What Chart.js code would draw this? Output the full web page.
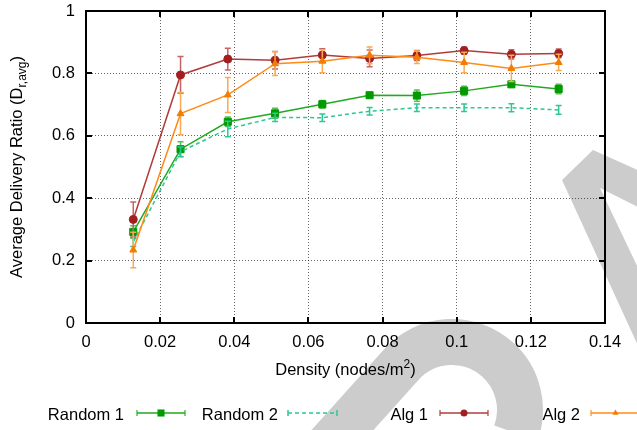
<!DOCTYPE html>
<html>
<head>
<meta charset="utf-8">
<script src="https://cdn.jsdelivr.net/npm/chart.js@4/dist/chart.umd.min.js"></script>
<style>
  html, body { margin: 0; padding: 0; background: #fff; }
  #wrap { width: 637px; height: 430px; position: relative; }
</style>
</head>
<body>
<div id="wrap"><canvas id="c" width="637" height="430"></canvas></div>
<script>
// ---- data ----
const xValues = [0.01275, 0.0255, 0.03825, 0.051, 0.06375, 0.0765, 0.08925, 0.102, 0.11475, 0.1275];
const random1 = [0.292, 0.557, 0.645, 0.672, 0.701, 0.730, 0.729, 0.744, 0.765, 0.750];
const random1Err = [0.020, 0.024, 0.015, 0.016, 0.012, 0.008, 0.018, 0.015, 0.008, 0.015];
const random2 = [0.260, 0.549, 0.622, 0.659, 0.658, 0.679, 0.690, 0.690, 0.690, 0.683];
const random2Err = [0.015, 0.015, 0.025, 0.013, 0.012, 0.012, 0.012, 0.012, 0.013, 0.014];
const alg1 = [0.332, 0.795, 0.846, 0.842, 0.859, 0.848, 0.857, 0.873, 0.861, 0.864];
const alg1Err = [0.056, 0.059, 0.035, 0.028, 0.020, 0.027, 0.016, 0.012, 0.015, 0.014];
const alg2 = [0.234, 0.671, 0.731, 0.831, 0.839, 0.858, 0.852, 0.835, 0.816, 0.835];
const alg2Err = [0.057, 0.068, 0.056, 0.038, 0.037, 0.027, 0.020, 0.033, 0.042, 0.026];
const seriesNames = ["Random 1", "Random 2", "Alg 1", "Alg 2"];
const xTicks = [0, 0.02, 0.04, 0.06, 0.08, 0.1, 0.12, 0.14];
const xTickLabels = ["0", "0.02", "0.04", "0.06", "0.08", "0.1", "0.12", "0.14"];
const yTicks = [0, 0.2, 0.4, 0.6, 0.8, 1];
const yTickLabels = ["0", "0.2", "0.4", "0.6", "0.8", "1"];
const xTitle = "Density (nodes/m";
const xTitleSup = "2";
const yTitle = "Average Delivery Ratio (D";
const yTitleSub = "r,avg";

// ---- styles ----
const FONT = "'Liberation Sans', Arial, Helvetica, sans-serif";
const FS = 16.5;
const styles = [
  { line: '#1faa1f', point: '#009a00', err: '#55c055', pointStyle: 'rect', radius: 5, dash: [] },
  { line: '#2cc792', point: '#2cc792', err: '#2cc792', pointStyle: 'circle', radius: 0, dash: [4, 3] },
  { line: '#b23b3b', point: '#a31f1f', err: '#c46464', pointStyle: 'circle', radius: 4, dash: [] },
  { line: '#ff8b17', point: '#f27d00', err: '#f8aa55', pointStyle: 'triangle', radius: 4, dash: [] }
];
const values = [random1, random2, alg1, alg2];
const errors = [random1Err, random2Err, alg1Err, alg2Err];

const datasets = values.map((vals, i) => ({
  label: seriesNames[i],
  data: vals.map((v, k) => ({ x: xValues[k], y: v })),
  errs: errors[i],
  borderColor: styles[i].line,
  backgroundColor: styles[i].point,
  pointBackgroundColor: styles[i].point,
  pointBorderColor: styles[i].point,
  pointStyle: styles[i].pointStyle,
  pointRadius: styles[i].radius,
  pointBorderWidth: 1,
  borderWidth: 1.5,
  borderDash: styles[i].dash,
  tension: 0,
  fill: false,
  order: 4 - i
}));

function drawMarker(ctx, style, x, y, r) {
  ctx.fillStyle = style.point;
  ctx.beginPath();
  if (style.pointStyle === 'rect') {
    const s = r * Math.SQRT1_2;
    ctx.rect(x - s, y - s, 2 * s, 2 * s);
  } else if (style.pointStyle === 'triangle') {
    ctx.moveTo(x, y - r);
    ctx.lineTo(x + r * 0.87, y + r * 0.5);
    ctx.lineTo(x - r * 0.87, y + r * 0.5);
    ctx.closePath();
  } else {
    ctx.arc(x, y, r, 0, Math.PI * 2);
  }
  ctx.fill();
}

const decor = {
  id: 'decor',
  beforeDraw(chart) {
    const ctx = chart.ctx;
    ctx.save();
    ctx.fillStyle = '#fff';
    ctx.fillRect(0, 0, chart.width, chart.height);
    // watermark (decorative, pixel space)
    ctx.strokeStyle = '#cccccc';
    ctx.fillStyle = '#cccccc';
    ctx.lineWidth = 46;
    ctx.lineCap = 'butt';
    ctx.beginPath();
    ctx.moveTo(315.5, 460);
    ctx.lineTo(401.5, 364.5);
    ctx.arc(452, 410, 68, -138 * Math.PI / 180, 20 * Math.PI / 180, false);
    ctx.stroke();
    ctx.beginPath();
    ctx.moveTo(562, 180);
    ctx.lineTo(593, 150);
    ctx.lineTo(640, 171);
    ctx.lineTo(640, 208);
    ctx.lineTo(600, 188);
    ctx.lineTo(640, 272);
    ctx.lineTo(640, 350);
    ctx.closePath();
    ctx.fill();
    ctx.restore();
  },
  beforeDatasetDraw(chart, args) {
    const ctx = chart.ctx;
    const ds = chart.data.datasets[args.index];
    const st = styles[args.index];
    const yS = chart.scales.y;
    const meta = args.meta;
    ctx.save();
    ctx.strokeStyle = st.err;
    ctx.lineWidth = 1.5;
    ctx.setLineDash([]);
    meta.data.forEach((pt, k) => {
      const v = ds.data[k].y, e = ds.errs[k];
      const x = pt.x;
      const y1 = yS.getPixelForValue(v + e), y2 = yS.getPixelForValue(v - e);
      ctx.beginPath();
      ctx.moveTo(x, y1); ctx.lineTo(x, y2);
      ctx.moveTo(x - 3, y1); ctx.lineTo(x + 3, y1);
      ctx.moveTo(x - 3, y2); ctx.lineTo(x + 3, y2);
      ctx.stroke();
    });
    ctx.restore();
  },
  afterDraw(chart) {
    const ctx = chart.ctx;
    const a = chart.chartArea;
    const xS = chart.scales.x, yS = chart.scales.y;
    ctx.save();
    // frame
    ctx.strokeStyle = '#000';
    ctx.lineWidth = 2;
    ctx.setLineDash([]);
    ctx.strokeRect(a.left, a.top, a.right - a.left, a.bottom - a.top);
    // inward ticks
    ctx.lineWidth = 2;
    ctx.beginPath();
    xTicks.forEach(v => {
      const px = Math.round(xS.getPixelForValue(v));
      ctx.moveTo(px, a.bottom); ctx.lineTo(px, a.bottom - 6);
      ctx.moveTo(px, a.top); ctx.lineTo(px, a.top + 6);
    });
    yTicks.forEach(v => {
      const py = Math.round(yS.getPixelForValue(v));
      ctx.moveTo(a.left, py); ctx.lineTo(a.left + 6, py);
      ctx.moveTo(a.right, py); ctx.lineTo(a.right - 6, py);
    });
    ctx.stroke();

    // axis titles
    ctx.fillStyle = '#000';
    const big = FS + 'px ' + FONT;
    const small = '12px ' + FONT;
    // x title
    ctx.font = big;
    const w1 = ctx.measureText(xTitle).width;
    const w3 = ctx.measureText(')').width;
    ctx.font = small;
    const w2 = ctx.measureText(xTitleSup).width;
    let tx = (a.left + a.right) / 2 - (w1 + w2 + w3) / 2;
    const ty = 375;
    ctx.textBaseline = 'alphabetic';
    ctx.textAlign = 'left';
    ctx.font = big; ctx.fillText(xTitle, tx, ty);
    ctx.font = small; ctx.fillText(xTitleSup, tx + w1, ty - 7);
    ctx.font = big; ctx.fillText(')', tx + w1 + w2, ty);
    // y title
    ctx.save();
    ctx.translate(22, (a.top + a.bottom) / 2);
    ctx.rotate(-Math.PI / 2);
    ctx.font = big;
    const v1 = ctx.measureText(yTitle).width;
    const v3 = ctx.measureText(')').width;
    ctx.font = small;
    const v2 = ctx.measureText(yTitleSub).width;
    let sx = -(v1 + v2 + v3) / 2;
    ctx.font = big; ctx.fillText(yTitle, sx, 0);
    ctx.font = small; ctx.fillText(yTitleSub, sx + v1, 4);
    ctx.font = big; ctx.fillText(')', sx + v1 + v2, 0);
    ctx.restore();

    // legend
    const items = [
      { tr: 124, s0: 137, s1: 185 },
      { tr: 278, s0: 288, s1: 337 },
      { tr: 428, s0: 440, s1: 488 },
      { tr: 580, s0: 591, s1: 640 }
    ];
    const ly = 413;
    items.forEach((it, i) => {
      const st = styles[i];
      ctx.font = big;
      ctx.textAlign = 'right';
      ctx.fillStyle = '#000';
      ctx.fillText(seriesNames[i], it.tr, 420);
      ctx.lineWidth = 1.5;
      ctx.strokeStyle = st.err;
      ctx.setLineDash([]);
      ctx.beginPath();
      ctx.moveTo(it.s0, ly - 3); ctx.lineTo(it.s0, ly + 3);
      ctx.moveTo(it.s1, ly - 3); ctx.lineTo(it.s1, ly + 3);
      ctx.stroke();
      ctx.strokeStyle = st.line;
      ctx.setLineDash(st.dash);
      ctx.beginPath();
      ctx.moveTo(it.s0, ly); ctx.lineTo(it.s1, ly);
      ctx.stroke();
      ctx.setLineDash([]);
      if (st.radius > 0) drawMarker(ctx, st, (it.s0 + it.s1) / 2, ly, st.pointStyle === 'rect' ? 5 : 3.5);
    });
    ctx.restore();
  }
};

new Chart(document.getElementById('c'), {
  type: 'line',
  data: { datasets },
  options: {
    responsive: false,
    animation: false,
    devicePixelRatio: 1,
    layout: { padding: { left: 0, top: 11, right: 32, bottom: 0 } },
    plugins: { legend: { display: false }, tooltip: { enabled: false } },
    scales: {
      x: {
        type: 'linear', min: 0, max: 0.14,
        afterFit(s) { s.height = 107; s.paddingLeft = 0; s.paddingRight = 0; },
        afterBuildTicks(s) { s.ticks = xTicks.map(v => ({ value: v })); },
        ticks: {
          callback: (v, i) => xTickLabels[i],
          color: '#000', padding: 10, maxRotation: 0, autoSkip: false,
          font: { family: FONT, size: FS }
        },
        grid: { color: 'rgba(0,0,0,0.6)', lineWidth: 1, drawTicks: false },
        border: { display: false, dash: [1, 2] }
      },
      y: {
        type: 'linear', min: 0, max: 1,
        afterFit(s) { s.width = 86; s.paddingTop = 0; s.paddingBottom = 0; },
        afterBuildTicks(s) { s.ticks = yTicks.map(v => ({ value: v })); },
        ticks: {
          callback: (v, i) => yTickLabels[i],
          color: '#000', padding: 11, autoSkip: false,
          font: { family: FONT, size: FS }
        },
        grid: { color: 'rgba(0,0,0,0.6)', lineWidth: 1, drawTicks: false },
        border: { display: false, dash: [1, 2] }
      }
    }
  },
  plugins: [decor]
});
</script>
</body>
</html>
